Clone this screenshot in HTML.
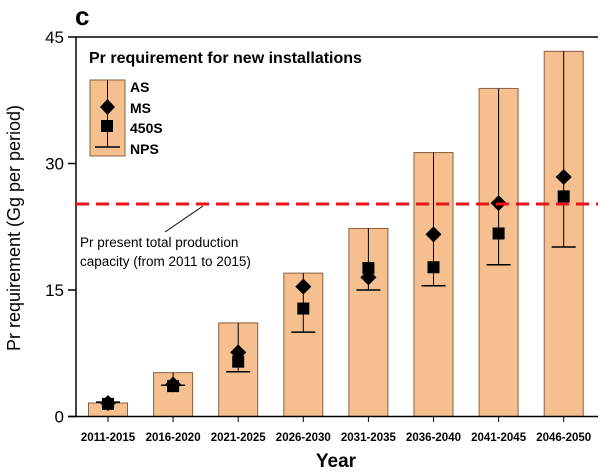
<!DOCTYPE html>
<html><head><meta charset="utf-8"><style>
body{margin:0;background:#fff}
svg{display:block;font-family:"Liberation Sans",Arial,sans-serif}
</style></head><body>
<svg id="chart" width="600" height="475" viewBox="0 0 600 475">
<text x="75" y="25" font-size="26" font-weight="bold">c</text>
<g id="bars"></g><g id="marks"></g>
<line x1="76" y1="37" x2="598" y2="37" stroke="#000" stroke-width="1.5"/>
<line x1="76" y1="37" x2="76" y2="417" stroke="#000" stroke-width="1.5"/>
<line x1="68" y1="416.5" x2="598" y2="416.5" stroke="#000" stroke-width="1.5"/>
<g id="axes"></g>
<text x="336" y="467" font-size="19" font-weight="bold" text-anchor="middle">Year</text>
<text transform="translate(20,228) rotate(-90)" font-size="18" text-anchor="middle">Pr requirement (Gg per period)</text>
<text x="89" y="63" font-size="16" font-weight="bold">Pr requirement for new installations</text>
<g>
<rect x="90" y="80" width="35" height="76" fill="#f5bf8f" stroke="#8a6040"/>
<line x1="107.5" y1="80" x2="107.5" y2="147" stroke="#000"/>
<line x1="95" y1="147" x2="120" y2="147" stroke="#000" stroke-width="1.5"/>
<polygon points="107.5,99 115,107 107.5,115 100,107" fill="#000"/>
<rect x="101" y="120" width="12" height="12" fill="#000"/>
<text x="130" y="92" font-size="14" font-weight="bold">AS</text>
<text x="130" y="113" font-size="14" font-weight="bold">MS</text>
<text x="130" y="133" font-size="14" font-weight="bold">450S</text>
<text x="130" y="154" font-size="14" font-weight="bold">NPS</text>
</g>
<line id="refline" x1="76" x2="598" stroke="#e8141b" stroke-width="3" stroke-dasharray="13,7"/>
<line x1="165" y1="232" x2="203" y2="206" stroke="#000" stroke-width="1"/>
<text x="80" y="247" font-size="13.5">Pr present total production</text>
<text x="80" y="266" font-size="13.5">capacity  (from 2011 to 2015)</text>
</svg>
<script>
const categories=["2011-2015","2016-2020","2021-2025","2026-2030","2031-2035","2036-2040","2041-2045","2046-2050"];
const asVals=[1.6,5.2,11.1,17.0,22.3,31.3,38.9,43.3];
const msVals=[1.6,3.8,7.6,15.4,16.5,21.6,25.3,28.4];
const s450Vals=[1.5,3.6,6.5,12.8,17.6,17.7,21.7,26.1];
const npsVals=[1.7,3.7,5.3,10.0,15.0,15.5,18.0,20.1];
const yTicks=[0,15,30,45];
const capacity=25.2;
const NS="http://www.w3.org/2000/svg";
const y=v=>416.5-v*(379.5/45);
const x=i=>108+i*65.1;
function mk(t,a,p){const e=document.createElementNS(NS,t);for(const k in a)e.setAttribute(k,a[k]);p.appendChild(e);return e;}
const bars=document.getElementById('bars'),marks=document.getElementById('marks'),axes=document.getElementById('axes');
categories.forEach((c,i)=>{
 const cx=x(i);
 const b=mk('rect',{x:cx-19.5,y:y(asVals[i]),width:39,height:y(0)-y(asVals[i]),fill:'#f5bf8f',stroke:'#8a6040'},bars);
 
 
 const l=mk('line',{x1:cx,x2:cx,y1:y(asVals[i]),y2:y(npsVals[i]),stroke:'#000'},marks);
 
 
 const n=mk('line',{x1:cx-12,x2:cx+12,y1:y(npsVals[i]),y2:y(npsVals[i]),stroke:'#000','stroke-width':1.5},marks);
 
 
 const sy=y(s450Vals[i]);
 const s=mk('rect',{x:cx-6,y:sy-6,width:12,height:12,fill:'#000'},marks);
 
 
 const my=y(msVals[i]);
 const d=mk('polygon',{points:`${cx},${my-8} ${cx+8},${my} ${cx},${my+8} ${cx-8},${my}`,fill:'#000'},marks);
 
 
 const tk=mk('line',{x1:cx,x2:cx,y1:416,y2:422,stroke:'#000'},axes);
 
 
 const t=mk('text',{x:cx,y:441,'font-size':11.5,'font-weight':'bold','text-anchor':'middle'},axes);
 t.textContent=c;
 
 
});
yTicks.forEach(v=>{
 const tk=mk('line',{x1:68,x2:76,y1:y(v),y2:y(v),stroke:'#000','stroke-width':1.5},axes);
 
 
 const t=mk('text',{x:64,y:y(v)+6,'font-size':17,'text-anchor':'end'},axes);
 t.textContent=v;
 
 
});
const r=document.getElementById('refline');r.setAttribute('y1',y(capacity));r.setAttribute('y2',y(capacity));
</script>
</body></html>
